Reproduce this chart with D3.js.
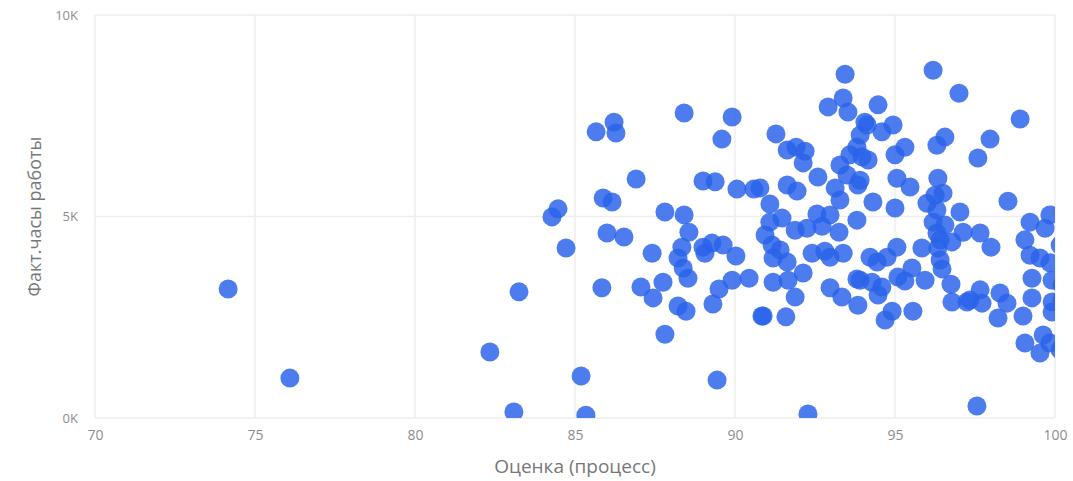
<!DOCTYPE html>
<html>
<head>
<meta charset="utf-8">
<script src="https://cdn.jsdelivr.net/npm/d3@7"></script>
<style>
    body { margin: 0; background: #fff; }
    text { font-family: "Segoe UI", "Open Sans", "Noto Sans", sans-serif; }
</style>
</head>
<body>
<div id="chart"></div>
<script>

// 1. Data

const xTicks = [70, 75, 80, 85, 90, 95, 100];
const yTicks = [0, 5000, 10000];
const yTickLabels = ["0K", "5K", "10K"];

const xTitle = "Оценка (процесс)";
const yTitle = "Факт.часы работы";

// оценка (процесс)
const scores = [
    74.16, 76.09, 82.34, 83.25, 83.09, 84.28, 84.47, 84.72, 85.19, 85.34,
    85.66, 86.22, 86.28, 85.84, 85.88, 86.16, 86.0, 86.53, 86.91, 87.06,
    87.41, 87.44, 87.75, 87.81, 87.81, 88.41, 89.91, 89.59, 89.0, 89.38,
    90.06, 90.59, 88.41, 88.56, 88.34, 88.22, 89.0, 89.28, 89.63, 90.03,
    89.06, 88.38, 88.53, 89.91, 90.44, 89.5, 89.31, 88.22, 88.47, 90.84,
    89.44, 92.28, 93.44, 93.38, 92.91, 93.53, 91.28, 91.63, 91.91, 92.19,
    92.13, 92.59, 94.06, 93.91, 93.81, 93.59, 93.28, 93.97, 93.5, 93.84,
    93.13, 93.28, 91.63, 91.94, 91.09, 90.78, 92.56, 92.97, 91.09, 91.47,
    91.88, 92.25, 92.72, 93.25, 93.81, 91.16, 91.41, 91.19, 91.63, 92.41,
    92.81, 92.97, 93.38, 92.13, 91.19, 91.66, 92.97, 93.34, 93.81, 93.84,
    91.88, 90.88, 91.59, 90.94, 96.19, 97.0, 94.47, 94.13, 94.94, 94.59,
    96.56, 96.31, 95.31, 95.0, 94.16, 93.91, 96.34, 95.06, 95.47, 94.31,
    95.0, 96.0, 96.5, 96.25, 96.31, 97.03, 96.56, 97.13, 96.78, 96.31,
    96.34, 95.84, 95.06, 94.75, 94.22, 94.44, 93.91, 94.28, 94.59, 94.47,
    95.09, 95.53, 95.31, 95.94, 96.47, 96.41, 96.75, 96.78, 97.25, 94.91,
    94.69, 95.56, 98.91, 97.97, 97.59, 98.53, 99.22, 99.84, 99.69, 97.66,
    98.0, 99.06, 99.22, 99.53, 99.84, 99.28, 99.91, 97.66, 97.34, 98.28,
    98.5, 98.22, 97.72, 99.28, 99.0, 99.91, 99.91, 99.06, 99.63, 99.53,
    99.84, 97.56, 100.16, 100.22, 100.22, 100.16, 96.19, 96.41
];

// факт. часы работы
const hours = [
    3200, 990, 1640, 3130, 150, 4990, 5190, 4220, 1040, 70,
    7100, 7340, 7070, 3230, 5460, 5360, 4590, 4490, 5930, 3250,
    4090, 2980, 3370, 2080, 5110, 7570, 7470, 6920, 5880, 5860,
    5680, 5680, 5040, 4610, 4240, 3970, 4240, 4340, 4290, 4020,
    4090, 3720, 3470, 3420, 3470, 3200, 2830, 2780, 2650, 2530,
    940, 100, 8530, 7940, 7720, 7590, 7050, 6650, 6720, 6620,
    6330, 5980, 7340, 7020, 6720, 6530, 6280, 6480, 6030, 5780,
    5710, 5410, 5780, 5630, 5310, 5710, 5060, 5040, 4860, 4960,
    4660, 4710, 4760, 4610, 4910, 4290, 4170, 3970, 3870, 4090,
    4140, 3990, 4090, 3600, 3370, 3420, 3230, 3000, 3450, 2800,
    3000, 2530, 2510, 4540, 8630, 8060, 7770, 7270, 7270, 7100,
    6970, 6770, 6720, 6530, 6400, 5900, 5950, 5950, 5730, 5360,
    5210, 5330, 5580, 5530, 5160, 5110, 4790, 4610, 4370, 4590,
    4220, 4220, 4240, 3990, 3990, 3870, 3420, 3370, 3250, 3050,
    3500, 3720, 3400, 3420, 3700, 3920, 3320, 2880, 2880, 2650,
    2430, 2650, 7420, 6920, 6450, 5380, 4860, 5040, 4710, 4590,
    4240, 4420, 4040, 3970, 3850, 3470, 3420, 3180, 2930, 3100,
    2850, 2480, 2850, 2980, 2530, 2880, 2630, 1860, 2060, 1610,
    1860, 300, 4290, 3300, 2930, 1690, 4860, 4420
];

const data = scores.map((s, i) => ({ score: s, hours: hours[i] }));


// 2. Dimensions

const dimensions = {
    width: 1073,
    height: 481,
    margin: {
        top: 15,
        right: 18,
        bottom: 63,
        left: 95,
    },
};
dimensions.boundedWidth = dimensions.width - dimensions.margin.left - dimensions.margin.right;
dimensions.boundedHeight = dimensions.height - dimensions.margin.top - dimensions.margin.bottom;


// 3. Canvas

const chart = d3.select("#chart")
    .append("svg")
    .attr("width", dimensions.width)
    .attr("height", dimensions.height);

const bounds = chart.append("g")
    .attr("transform", `translate(${dimensions.margin.left}, ${dimensions.margin.top})`);

bounds.append("defs")
    .append("clipPath")
    .attr("id", "plot-clip")
    .append("rect")
    .attr("width", dimensions.boundedWidth)
    .attr("height", dimensions.boundedHeight);


// 4. Scales

const xScale = d3.scaleLinear()
    .domain([70, 100])
    .range([0, dimensions.boundedWidth]);

const yScale = d3.scaleLinear()
    .domain([0, 10000])
    .range([dimensions.boundedHeight, 0]);


// 5. Grid

bounds.append("g")
    .selectAll("line")
    .data(xTicks)
    .join("line")
    .attr("x1", d => xScale(d))
    .attr("x2", d => xScale(d))
    .attr("y1", 0)
    .attr("y2", dimensions.boundedHeight)
    .attr("stroke", "#eeeeee")
    .attr("stroke-width", 1.5);

bounds.append("g")
    .selectAll("line")
    .data(yTicks)
    .join("line")
    .attr("x1", 0)
    .attr("x2", dimensions.boundedWidth)
    .attr("y1", d => yScale(d))
    .attr("y2", d => yScale(d))
    .attr("stroke", "#eeeeee")
    .attr("stroke-width", 1.5);


// 6. Dots

bounds.append("g")
    .attr("clip-path", "url(#plot-clip)")
    .selectAll("circle")
    .data(data)
    .join("circle")
    .attr("cx", d => xScale(d.score))
    .attr("cy", d => yScale(d.hours))
    .attr("r", 9.5)
    .attr("fill", "#2a63e9")
    .attr("fill-opacity", 0.84);


// 7. Axes labels

const xAxis = d3.axisBottom(xScale)
    .tickValues(xTicks)
    .tickSize(0)
    .tickPadding(12);

const xAxisGroup = bounds.append("g")
    .attr("transform", `translate(0, ${dimensions.boundedHeight})`)
    .call(xAxis);
xAxisGroup.select(".domain").remove();
xAxisGroup.selectAll("text")
    .style("font-size", "14px")
    .style("fill", "#8c8c8c");

const yAxis = d3.axisLeft(yScale)
    .tickValues(yTicks)
    .tickFormat((d, i) => yTickLabels[i])
    .tickSize(0)
    .tickPadding(17);

const yAxisGroup = bounds.append("g")
    .call(yAxis);
yAxisGroup.select(".domain").remove();
yAxisGroup.selectAll("text")
    .style("font-size", "13px")
    .style("fill", "#8c8c8c");

chart.append("text")
    .attr("x", dimensions.margin.left + dimensions.boundedWidth / 2)
    .attr("y", 473)
    .attr("text-anchor", "middle")
    .style("font-size", "19px")
    .style("fill", "#777777")
    .text(xTitle);

chart.append("text")
    .attr("transform", `translate(41, ${dimensions.margin.top + dimensions.boundedHeight / 2}) rotate(-90)`)
    .attr("text-anchor", "middle")
    .style("font-size", "18px")
    .style("fill", "#777777")
    .text(yTitle);

</script>
</body>
</html>
